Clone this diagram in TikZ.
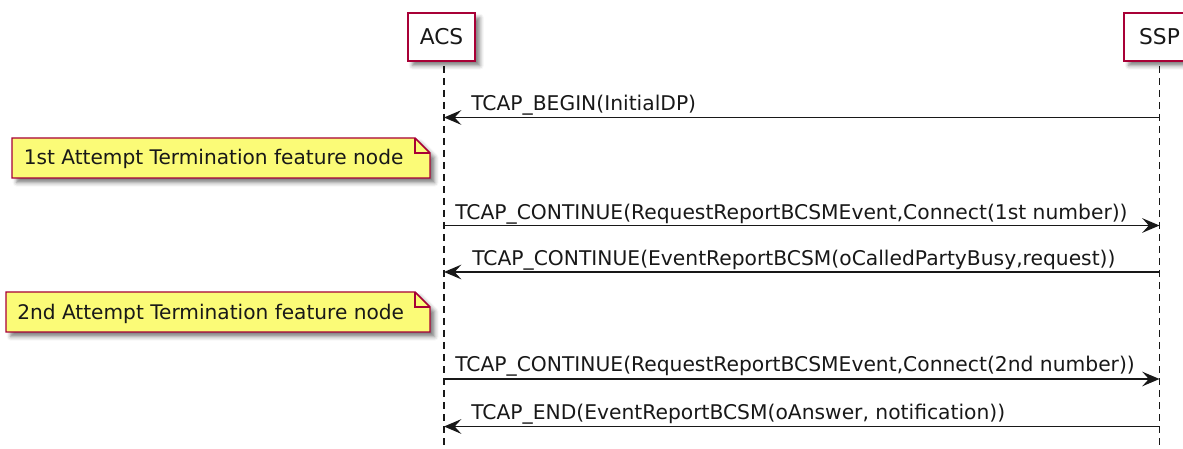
\documentclass[tikz,border=0pt]{standalone}
\usepackage{fontspec}
\setmainfont{DejaVu Sans}
\usetikzlibrary{arrows.meta,shadows.blur}
\definecolor{pborder}{HTML}{A80036}
\definecolor{notefill}{HTML}{FBFB77}
\definecolor{ink}{HTML}{181818}
\tikzset{
  pshadow/.style={blur shadow={shadow xshift=3.5pt, shadow yshift=-3.5pt, shadow blur radius=3pt, shadow opacity=50}},
  participant/.style={draw=pborder, line width=1.4pt, fill=white, minimum width=50.5pt, minimum height=36pt, inner sep=0pt, font=\fontsize{16.3}{19}\selectfont, text=ink, pshadow},
  lifeline/.style={draw=ink, line width=0.8pt, dash pattern=on 5.25pt off 3.75pt},
  msg/.style={draw=ink, line width=1.1pt, -{Stealth[length=13pt,width=11pt,inset=5pt]}},
  lbl/.style={font=\fontsize{15.2}{18}\selectfont, text=ink, inner sep=0pt, anchor=base west},
  notebox/.style={draw=pborder, line width=1.1pt, fill=notefill, line join=miter, pshadow},
  notefold/.style={draw=pborder, line width=1.1pt},
  notetext/.style={font=\fontsize{15.1}{18}\selectfont, text=ink, inner sep=0pt, anchor=base west}
}
\begin{document}
\begin{tikzpicture}[x=0.75pt, y=-0.75pt]
\useasboundingbox (0,0) rectangle (1183,449);
% lifeline ends
\coordinate (acsTop) at (444,66);
\coordinate (acsBot) at (444,449);
\coordinate (sspTop) at (1159.5,66);
\coordinate (sspBot) at (1159.5,449);
\draw[lifeline] (acsTop) -- (acsBot);
\draw[lifeline] (sspTop) -- (sspBot);
% participants
\node[participant] (acs) at (441.5,37) {ACS};
\node[participant, minimum width=53pt] (ssp) at (1159.5,37) {SSP};
% message end points
\coordinate (a1) at (444,117.5);  \coordinate (s1) at (1159.5,117.5);
\coordinate (a2) at (444,225.5);  \coordinate (s2) at (1159.5,225.5);
\coordinate (a3) at (444,272);    \coordinate (s3) at (1159.5,272);
\coordinate (a4) at (444,379);    \coordinate (s4) at (1159.5,379);
\coordinate (a5) at (444,426.5);  \coordinate (s5) at (1159.5,426.5);
% messages
\draw[msg] (s1) -- (a1);
\path (a1) ++(27,-7) node[lbl] (m1) {TCAP\_BEGIN(InitialDP)};
\draw[msg] (a2) -- (s2);
\path (a2) ++(11,-6) node[lbl] (m2) {TCAP\_CONTINUE(RequestReportBCSMEvent,Connect(1st number))};
\draw[msg] (s3) -- (a3);
\path (a3) ++(28,-6.5) node[lbl] (m3) {TCAP\_CONTINUE(EventReportBCSM(oCalledPartyBusy,request))};
\draw[msg] (a4) -- (s4);
\path (a4) ++(11,-7) node[lbl] (m4) {TCAP\_CONTINUE(RequestReportBCSMEvent,Connect(2nd number))};
\draw[msg] (s5) -- (a5);
\path (a5) ++(27,-7.5) node[lbl] (m5) {TCAP\_END(EventReportBCSM(oAnswer, notification))};
% note 1
\path[notebox] (12,138) -- (415,138) -- (430,153) -- (430,178) -- (12,178) -- cycle;
\draw[notefold] (415,138) -- (415,153) -- (430,153);
\node[notetext] (n1) at (23.5,165) {1st Attempt Termination feature node};
% note 2
\path[notebox] (6,292) -- (415,292) -- (430,307) -- (430,332) -- (6,332) -- cycle;
\draw[notefold] (415,292) -- (415,307) -- (430,307);
\node[notetext] (n2) at (17,319.5) {2nd Attempt Termination feature node};
\end{tikzpicture}
\end{document}
